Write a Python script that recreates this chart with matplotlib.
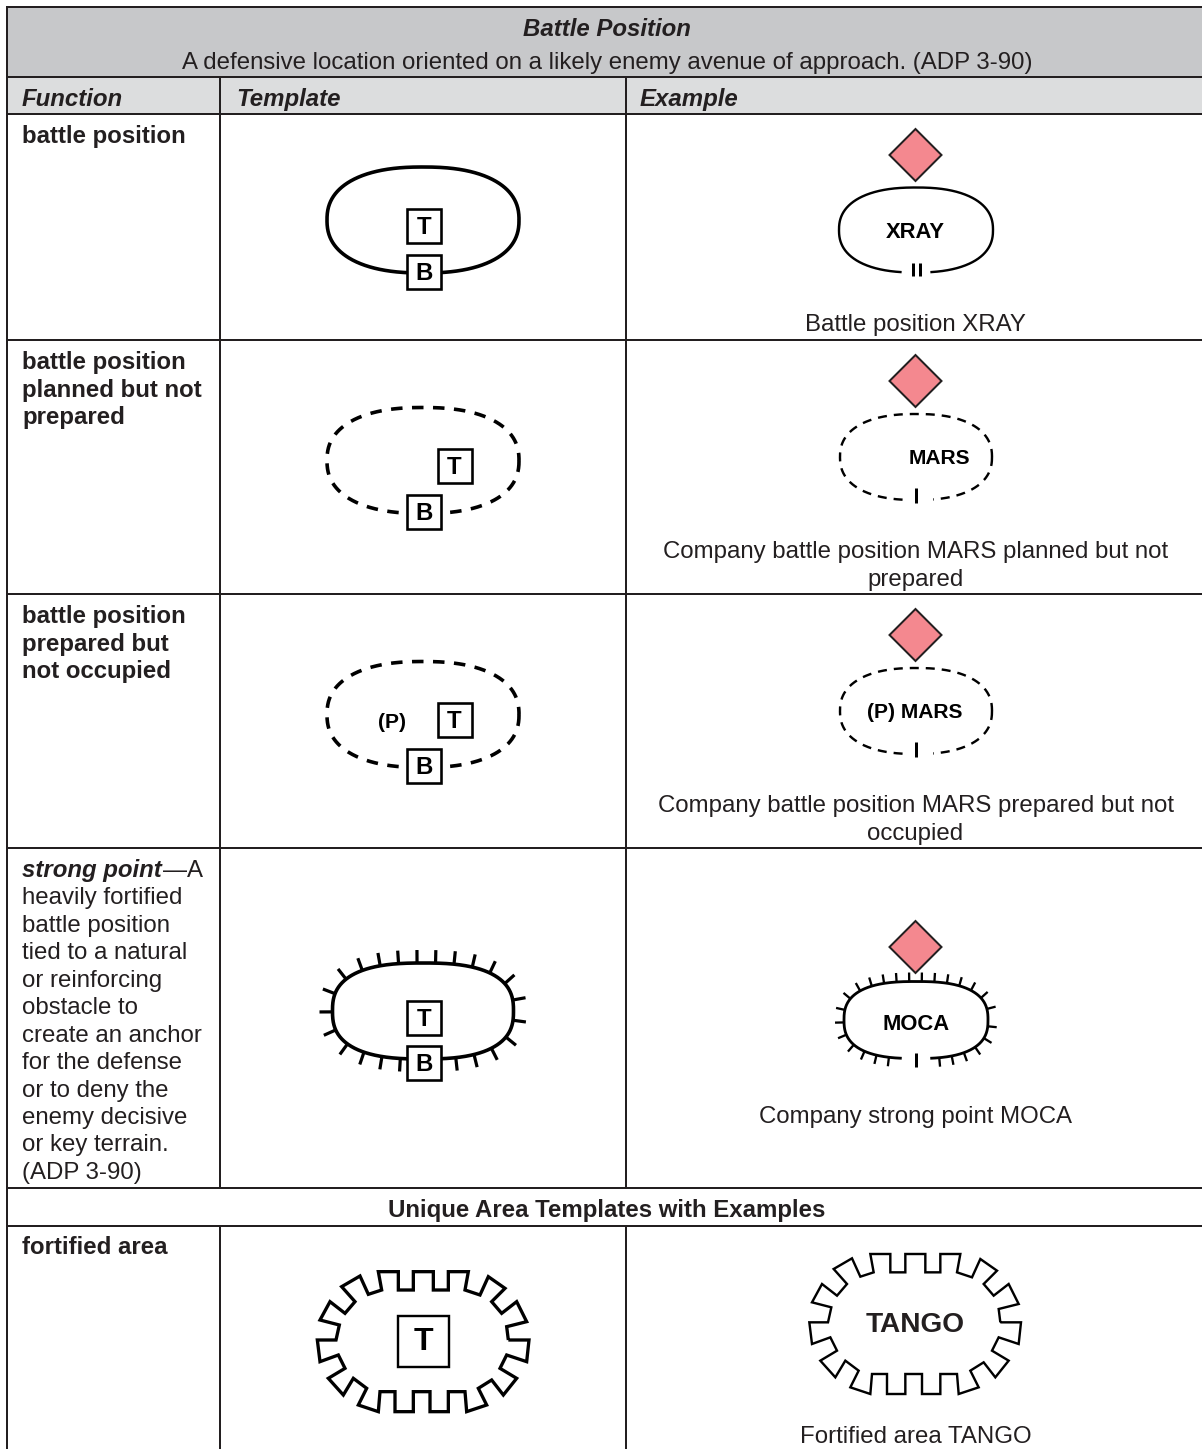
# battle position table, drawn in pixel coordinates of the page
import numpy as np
import matplotlib
matplotlib.use('Agg')
import matplotlib.pyplot as plt
from matplotlib.patches import Rectangle, Polygon

plt.rcParams['font.family'] = ['Liberation Sans', 'DejaVu Sans']

W, H = 1202, 1449
DARK = '#231f20'
PX = 0.72  # points per pixel at dpi 100
FS = 24 * PX

# table grid
row_lines = [7, 77, 114, 340, 594, 848, 1188, 1226]
col_lines = [219.5, 626]

# text
title = 'Battle Position'
subtitle = 'A defensive location oriented on a likely enemy avenue of approach. (ADP 3-90)'
headers = ['Function', 'Template', 'Example']
header_x = [22, 236, 640]
functions = [
    (['battle position'], 143),
    (['battle position', 'planned but not', 'prepared'], 369),
    (['battle position', 'prepared but', 'not occupied'], 623),
]
strong_lines = ['heavily fortified', 'battle position', 'tied to a natural', 'or reinforcing',
                'obstacle to', 'create an anchor', 'for the defense', 'or to deny the',
                'enemy decisive', 'or key terrain.', '(ADP 3-90)']
captions = [
    ('Battle position XRAY', 331),
    ('Company battle position MARS planned but not', 558),
    ('prepared', 586),
    ('Company battle position MARS prepared but not', 812),
    ('occupied', 840),
    ('Company strong point MOCA', 1123),
    ('Fortified area TANGO', 1443),
]

# blobs: centre x, centre y, half width, half height
blob_t1 = (423, 220, 96, 53)
blob_t2 = (423, 460.5, 96, 53)
blob_t3 = (423, 714.5, 96, 53)
blob_t4 = (423, 1011, 90.5, 48)
blob_e1 = (916, 230, 77, 42.5)
blob_e2 = (916, 457, 76, 43)
blob_e3 = (916, 711, 76, 43)
blob_e4 = (916, 1020, 72, 38.5)

diamond_y = [155, 381, 635, 947]

# fortified outline, read at 3x from the crop
fort_x = [625, 687, 680, 620, 600, 650, 610, 575, 535, 560, 500, 495, 445, 445, 390, 390, 340, 340,
          285, 285, 240, 235, 175, 200, 160, 130, 85, 135, 115, 60, 52, 108, 118, 60, 90, 135, 165,
          125, 180, 205, 245, 235, 295, 295, 340, 340, 400, 400, 445, 445, 505, 495, 540, 565, 615,
          575, 605, 650, 680, 620]
fort_y = [270, 270, 335, 315, 355, 385, 435, 390, 415, 465, 485, 425, 425, 485, 485, 425, 425, 485,
          485, 425, 425, 485, 465, 415, 385, 435, 385, 355, 315, 335, 270, 270, 225, 210, 155, 190,
          155, 110, 78, 133, 120, 65, 65, 120, 120, 65, 65, 120, 120, 65, 65, 120, 135, 80, 115,
          155, 190, 155, 215, 230]
fort_x = np.array(fort_x, dtype=float)
fort_y = np.array(fort_y, dtype=float)


def outline(blob, n=2.35):
    cx, cy, rx, ry = blob
    t = np.linspace(0, 2 * np.pi, 721)
    x = cx + rx * np.sign(np.cos(t)) * np.abs(np.cos(t)) ** (2 / n)
    y = cy + ry * np.sign(np.sin(t)) * np.abs(np.sin(t)) ** (2 / n)
    return x, y


def line_px(ax, x, y, width, **kw):
    kw.setdefault('color', 'black')
    ax.plot(x, y, lw=width * PX, solid_capstyle='butt', zorder=kw.pop('zorder', 3), **kw)


def box(ax, cx, cy, letter, half=17, size=FS, width=2.6):
    ax.add_patch(Rectangle((cx - half, cy - half), 2 * half, 2 * half, fc='white', ec='black',
                           lw=width * PX, zorder=5))
    ax.text(cx, cy + 1.5, letter, ha='center', va='center', fontsize=size, fontweight='bold',
            color='black', zorder=6)


def blob_gap(x, y, blob, x0, x1):
    # blank the bottom stretch where the echelon mark sits
    mask = (y > blob[1]) & (x > x0) & (x < x1)
    x = x.copy()
    x[mask] = np.nan
    return x, y


def ticks(ax, blob, spacing, length, width, n=2.35, skip=None):
    x, y = outline(blob, n)
    s = np.r_[0, np.cumsum(np.hypot(np.diff(x), np.diff(y)))]
    at = np.arange(spacing / 2, s[-1], spacing)
    tx = np.interp(at, s, x)
    ty = np.interp(at, s, y)
    dx = np.gradient(x, s)
    dy = np.gradient(y, s)
    nx = np.interp(at, s, dy)
    ny = np.interp(at, s, -dx)
    for a, b, c, d in zip(tx, ty, nx, ny):
        if skip is not None and b > blob[1] and skip[0] < a < skip[1]:
            continue
        line_px(ax, [a, a + c * length], [b, b + d * length], width)


def diamond(ax, y):
    cx, h = 915.5, 26
    ax.add_patch(Polygon([(cx - h, y), (cx, y - h), (cx + h, y), (cx, y + h)], closed=True,
                         fc='#f4888f', ec=DARK, lw=2 * PX, zorder=3))


fig = plt.figure(figsize=(W / 100, H / 100), dpi=100)
ax = fig.add_axes([0, 0, 1, 1])
ax.set_xlim(0, W)
ax.set_ylim(H, 0)
ax.axis('off')

# bands
ax.add_patch(Rectangle((7, 7), W - 7, 70, fc='#c7c8ca', ec='none', zorder=0))
ax.add_patch(Rectangle((7, 77), W - 7, 37, fc='#dcddde', ec='none', zorder=0))

# grid
for y in row_lines:
    line_px(ax, [6, W], [y, y], 2, color=DARK, zorder=1)
line_px(ax, [7, 7], [6, H], 2, color=DARK, zorder=1)
for x in col_lines:
    line_px(ax, [x, x], [77, 1188], 2, color=DARK, zorder=1)
    line_px(ax, [x, x], [1226, H], 2, color=DARK, zorder=1)

# text
ax.text(607, 36, title, ha='center', va='baseline', fontsize=FS, fontweight='bold', style='italic', color=DARK)
ax.text(607, 69, subtitle, ha='center', va='baseline', fontsize=FS, color=DARK)
for name, x in zip(headers, header_x):
    ax.text(x, 106, name, va='baseline', fontsize=FS, fontweight='bold', style='italic', color=DARK)
for lines, y0 in functions:
    for i, s in enumerate(lines):
        ax.text(22, y0 + i * 27.5, s, va='baseline', fontsize=FS, fontweight='bold', color=DARK)
ax.text(22, 877, 'strong point', va='baseline', fontsize=FS, fontweight='bold', style='italic', color=DARK)
ax.text(163, 877, '—A', va='baseline', fontsize=FS, color=DARK)
for i, s in enumerate(strong_lines):
    ax.text(22, 877 + (i + 1) * 27.45, s, va='baseline', fontsize=FS, color=DARK)
ax.text(607, 1217, 'Unique Area Templates with Examples', ha='center', va='baseline',
        fontsize=FS, fontweight='bold', color=DARK)
ax.text(22, 1254, 'fortified area', va='baseline', fontsize=FS, fontweight='bold', color=DARK)
for s, y in captions:
    ax.text(915.5, y, s, ha='center', va='baseline', fontsize=FS, color=DARK)

# templates
x, y = outline(blob_t1)
line_px(ax, x, y, 3.6)
box(ax, 424, 226, 'T')
box(ax, 424, 271.5, 'B')

dash_t = (0, (11.5 / 3.6, 9.5 / 3.6))
x, y = outline(blob_t2)
ax.plot(x, y, color='black', lw=3.6 * PX, ls=dash_t, zorder=3)
box(ax, 454.5, 466, 'T')
box(ax, 424, 512, 'B')

x, y = outline(blob_t3)
ax.plot(x, y, color='black', lw=3.6 * PX, ls=dash_t, zorder=3)
ax.text(392, 723, '(P)', ha='center', va='center', fontsize=21 * PX, fontweight='bold', color='black')
box(ax, 454.5, 720, 'T')
box(ax, 424, 766, 'B')

x, y = outline(blob_t4, 2.6)
line_px(ax, x, y, 3.6)
ticks(ax, blob_t4, 18.5, 13, 3.2, 2.6)
box(ax, 424, 1017.5, 'T')
box(ax, 424, 1063, 'B')

line_px(ax, np.r_[300 + fort_x / 3, 300 + fort_x[0] / 3], np.r_[1250 + fort_y / 3, 1250 + fort_y[0] / 3], 3.3,
        solid_joinstyle='miter')
box(ax, 423, 1341, 'T', half=25.5, size=32 * PX, width=2.4)

# examples
for y0 in diamond_y:
    diamond(ax, y0)

x, y = outline(blob_e1)
x, y = blob_gap(x, y, blob_e1, 902, 930)
line_px(ax, x, y, 2.4)
ax.text(915.5, 233, 'XRAY', ha='center', va='center', fontsize=22 * PX, fontweight='bold', color='black')
line_px(ax, [912.5, 912.5], [263, 276], 3)
line_px(ax, [919.5, 919.5], [263, 276], 3)

dash_e = (0, (9 / 2.4, 7 / 2.4))
for blob, label, lx, ly, tick_y in [(blob_e2, 'MARS', 939, 459, 488), (blob_e3, '(P) MARS', 915, 713, 742)]:
    x, y = outline(blob)
    x, y = blob_gap(x, y, blob, 903, 933)
    ax.plot(x, y, color='black', lw=2.4 * PX, ls=dash_e, zorder=3)
    ax.text(lx, ly, label, ha='center', va='center', fontsize=21 * PX, fontweight='bold', color='black')
    line_px(ax, [916, 916], [tick_y, tick_y + 15], 3)

x, y = outline(blob_e4, 2.6)
x, y = blob_gap(x, y, blob_e4, 902, 930)
line_px(ax, x, y, 2.8)
ticks(ax, blob_e4, 12.6, 9, 2.3, 2.6, skip=(901, 931))
ax.text(916, 1024.5, 'MOCA', ha='center', va='center', fontsize=22 * PX, fontweight='bold', color='black')
line_px(ax, [916, 916], [1053, 1067], 3)

line_px(ax, np.r_[790 + (fort_x + 6) / 3, 790 + (fort_x[0] + 6) / 3],
        np.r_[1240 + (fort_y - 23) / 3, 1240 + (fort_y[0] - 23) / 3], 2.4, solid_joinstyle='miter')
ax.text(915.5, 1325, 'TANGO', ha='center', va='center', fontsize=28 * PX, fontweight='bold', color=DARK)

fig.savefig('out.png', dpi=100)
